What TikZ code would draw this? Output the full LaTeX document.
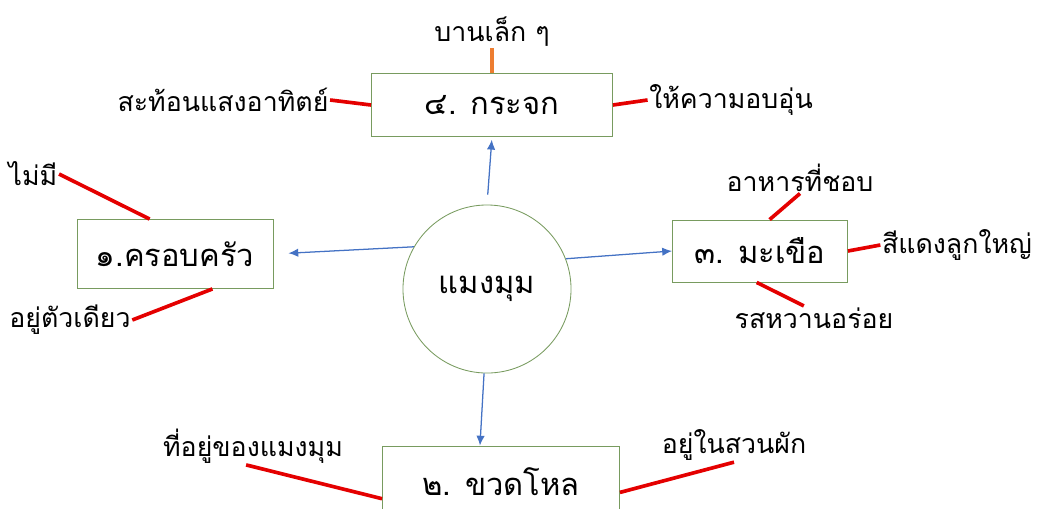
\documentclass[tikz,border=0pt]{standalone}
\usepackage{fontspec}
\usetikzlibrary{arrows.meta}
\newfontfamily\thaifont[Script=Thai]{Loma}
\definecolor{boxgreen}{RGB}{120,155,95}
\definecolor{arrowblue}{RGB}{68,114,196}
\definecolor{linered}{RGB}{228,0,0}
\definecolor{lineorange}{RGB}{237,125,49}

\begin{document}
\begin{tikzpicture}[x=0.025cm, y=-0.025cm]
 	\tikzstyle{main}=[circle, minimum size = 42mm, draw = boxgreen, line width=0.6pt, font=\thaifont\fontsize{22}{26}\selectfont]
 	\tikzstyle{topic}=[rectangle, draw = boxgreen, line width=0.6pt, fill=white, font=\thaifont\fontsize{22}{26}\selectfont]
 	\tikzstyle{note}=[inner sep=1pt, font=\thaifont\fontsize{19}{23}\selectfont]
 	\tikzstyle{connect}=[-{Latex[length=7pt,width=6pt]}, draw=arrowblue, fill=arrowblue, line width=0.9pt]
 	\tikzstyle{stroke}=[draw=linered, line width=2.6pt]
 	\useasboundingbox (0,0) rectangle (1040,508);
 	\clip (0,0) rectangle (1040,508);
 	\node[main] (spider) at (487,289) {แมงมุม};
 	\node[topic, minimum width=60.25mm, minimum height=15.75mm] (mirror) at (492,105) {๔. กระจก};
 	\node[topic, minimum width=49mm, minimum height=17.25mm] (family) at (175,254) {๑.ครอบครัว};
 	\node[topic, minimum width=43.75mm, minimum height=15.5mm] (eggplant) at (760,251) {๓. มะเขือ};
 	\node[topic, minimum width=59.25mm, minimum height=18mm] (jar) at (501,482) {๒. ขวดโหล};
 	% labels
 	\node[note] (small) at (492,32) {บานเล็ก ๆ};
 	\node[note] (reflect) at (223,100) {สะท้อนแสงอาทิตย์};
 	\node[note] (warm) at (731,100) {ให้ความอบอุ่น};
 	\node[note] (none) at (33,174) {ไม่มี};
 	\node[note] (alone) at (70,320) {อยู่ตัวเดียว};
 	\node[note] (food) at (800,178) {อาหารที่ชอบ};
 	\node[note] (red) at (957,245) {สีแดงลูกใหญ่};
 	\node[note] (taste) at (814,318) {รสหวานอร่อย};
 	\node[note] (home) at (253,446) {ที่อยู่ของแมงมุม};
 	\node[note] (garden) at (734,445) {อยู่ในสวนผัก};
 	\path (spider.150) edge [connect, shorten >=15*0.025cm] (family.east)
 	(spider.90) edge [connect, shorten <=10*0.025cm, shorten >=2pt] (mirror.south)
 	(spider.21) edge [connect] (eggplant.west)
 	(spider.-92) edge [connect] (jar.120);
 	\draw[draw=lineorange, line width=2.4pt] (small.south) -- (mirror.north);
 	\path (reflect.east) edge [stroke] (mirror.west)
 	(mirror.east) edge [stroke] (warm.west)
 	(none.east) edge [stroke] (family.126)
 	(alone.east) edge [stroke] (family.-43)
 	(food.south) edge [stroke] (eggplant.73)
 	(eggplant.east) edge [stroke] (red.west)
 	(eggplant.-96) edge [stroke] (taste.130)
 	(home.-110) edge [stroke] (jar.188)
 	(jar.-5) edge [stroke] (garden.south);
\end{tikzpicture}
\end{document}
